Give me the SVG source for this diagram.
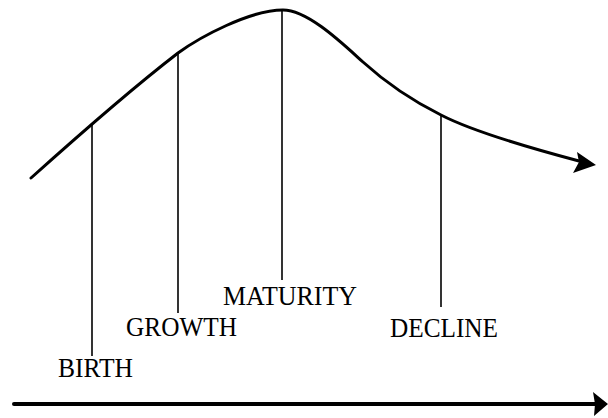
<svg xmlns="http://www.w3.org/2000/svg" width="608" height="418" viewBox="0 0 608 418">
<style>
.lbl{font-family:"Liberation Serif","Times New Roman",serif;font-size:26.5px;fill:#000}
.thin{stroke:#000;stroke-width:1.6;fill:none}
.curve{stroke:#000;stroke-width:3;fill:none;stroke-linecap:round}
.axis{stroke:#000;stroke-width:4;fill:none;stroke-linecap:round}
.head{fill:#000}
</style>
<rect width="608" height="418" fill="#fff"/>
<g id="connectors">
<path class="curve" d="M31,178 C70,143 130,90 178,53 C200,37 250,10 283,10 C308,10 343,44 363,62 C385,82 415,102 441,115 C470,130 530,148 579,161"/>
<polygon class="head" points="596,165 577,152 579,162 573,173"/>
<line class="axis" x1="14" y1="404" x2="596" y2="404"/>
<polygon class="head" points="608,404 593,392 595,404 594,416"/>
<line class="thin" x1="92" y1="123" x2="92" y2="356"/>
<line class="thin" x1="178" y1="53" x2="178" y2="313"/>
<line class="thin" x1="282" y1="10" x2="282" y2="280"/>
<line class="thin" x1="441" y1="115" x2="441" y2="307"/>
</g>
<g id="birth"><text class="lbl" x="58" y="377" textLength="75" lengthAdjust="spacingAndGlyphs">BIRTH</text></g>
<g id="growth"><text class="lbl" x="126" y="336" textLength="111" lengthAdjust="spacingAndGlyphs">GROWTH</text></g>
<g id="maturity"><text class="lbl" x="223" y="305" textLength="134" lengthAdjust="spacingAndGlyphs">MATURITY</text></g>
<g id="decline"><text class="lbl" x="390" y="337" textLength="108" lengthAdjust="spacingAndGlyphs">DECLINE</text></g>
</svg>
